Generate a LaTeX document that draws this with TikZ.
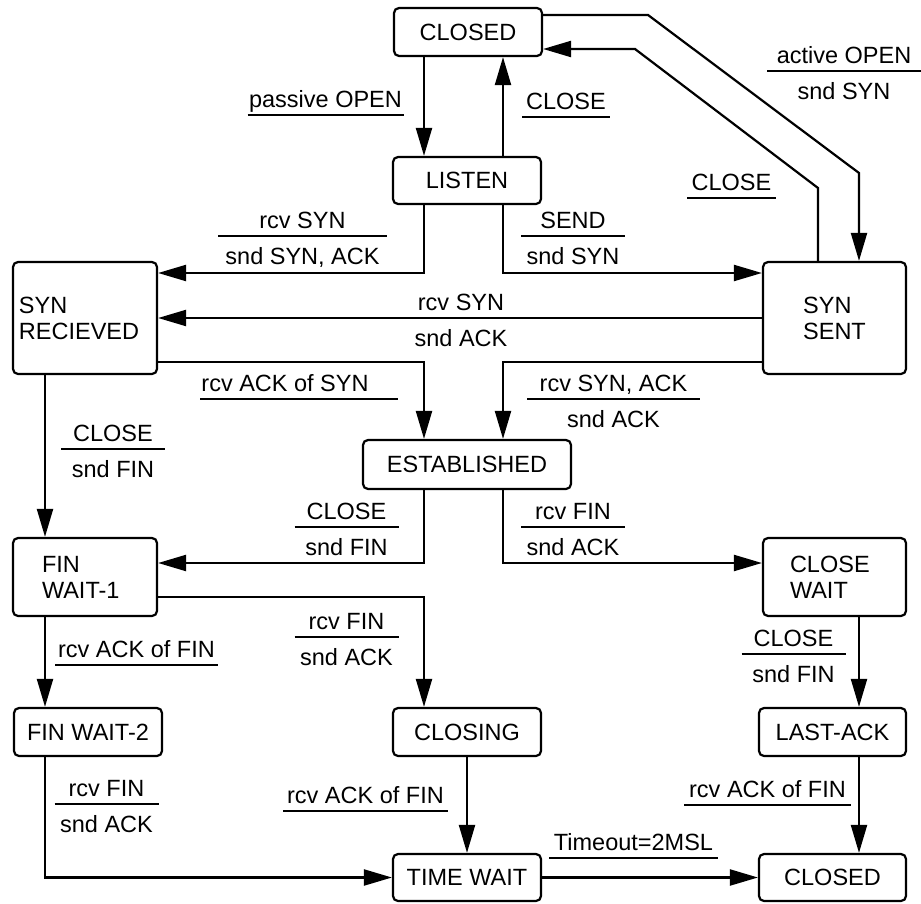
\documentclass[tikz,border=0pt]{standalone}
\usepackage{fontspec}
\setmainfont{Liberation Sans}
\usetikzlibrary{arrows.meta}
\newcommand\frlbl[3]{\vbox{\offinterlineskip
  \hbox to #1{\hss\vrule height 18pt depth 6.5pt width 0pt #2\hss}%
  \hrule height 2.2pt
  \hbox to #1{\hss\vrule height 27pt depth 6pt width 0pt #3\hss}}}
\newcommand\frnobar[3]{\vbox{\offinterlineskip
  \hbox to #1{\hss\vrule height 18pt depth 6.5pt width 0pt #2\hss}%
  \kern 2.2pt
  \hbox to #1{\hss\vrule height 27pt depth 6pt width 0pt #3\hss}}}
\newcommand\ulbl[2]{\vbox{\offinterlineskip
  \hbox to #1{\hss\vrule height 18pt depth 6.5pt width 0pt #2\hss}%
  \hrule height 2.2pt}}
\begin{document}
\begin{tikzpicture}[x=1pt,y=-1pt,line width=2.2pt,
  every node/.style={font=\fontsize{23.5}{26}\selectfont},
  >={Triangle[length=28pt,width=16pt]},
  state/.style={draw, rounded corners=5pt, inner sep=0pt, align=center},
  lbl/.style={inner sep=0pt, anchor=base, yshift=-28.1pt},
  lblu/.style={inner sep=0pt, anchor=base, yshift=-1.1pt}]
\useasboundingbox (0,0) rectangle (921,904);
% states
\node[state, minimum width=148pt, minimum height=48pt] (closedT) at (468,32) {CLOSED};
\node[state, minimum width=148pt, minimum height=47pt] (listen) at (467,180.5) {LISTEN};
\node[state, minimum width=144pt, minimum height=112pt, text width=132pt, inner xsep=6pt, align=left] (synrcvd) at (85,318) {SYN\\RECIEVED};
\node[state, minimum width=143pt, minimum height=112pt, align=left] (synsent) at (834.5,318) {SYN\\SENT};
\node[state, minimum width=208pt, minimum height=49pt] (estab) at (467,464.5) {ESTABLISHED};
\node[state, minimum width=144pt, minimum height=78pt, text width=86pt, inner xsep=29pt, align=left] (finw1) at (85,577) {FIN\\WAIT-1};
\node[state, minimum width=143pt, minimum height=78pt, text width=89pt, inner xsep=27pt, align=left] (closewait) at (834.5,577) {CLOSE\\WAIT};
\node[state, minimum width=148pt, minimum height=48pt] (finw2) at (88,732) {FIN WAIT-2};
\node[state, minimum width=148pt, minimum height=48pt] (closing) at (467,732) {CLOSING};
\node[state, minimum width=147pt, minimum height=48pt] (lastack) at (832.5,732) {LAST-ACK};
\node[state, minimum width=148pt, minimum height=47pt] (timewait) at (467,877.5) {TIME WAIT};
\node[state, minimum width=147pt, minimum height=47pt] (closedB) at (832.5,877.5) {CLOSED};
% guide coordinates
\coordinate (xL) at (424,0);
\coordinate (xR) at (503,0);
\coordinate (xA) at (45,0);
\coordinate (xC) at (859,0);
\coordinate (xD) at (818,0);
\coordinate (b1) at (648,15);
\coordinate (b2) at (859,173);
\coordinate (b3) at (818,188);
\coordinate (b4) at (635,49);
% connectors
\draw[->] (closedT.south -| xL) -- (listen.north -| xL);
\draw[->] (listen.north -| xR) -- (closedT.south -| xR);
\draw[->] ([yshift=17pt]closedT.east) -- (b1) -- (b2) -- (synsent.north -| xC);
\draw[->] (synsent.north -| xD) -- (b3) -- (b4) -- ([yshift=-17pt]closedT.east);
\draw[->] (listen.south -| xL) |- ([yshift=45pt]synrcvd.east);
\draw[->] (listen.south -| xR) |- ([yshift=45pt]synsent.west);
\draw[->] (synsent.west) -- (synrcvd.east);
\draw[->] ([yshift=-44pt]synrcvd.east) -| (estab.north -| xL);
\draw[->] ([yshift=-44pt]synsent.west) -| (estab.north -| xR);
\draw[->] (synrcvd.south -| xA) -- (finw1.north -| xA);
\draw[->] (estab.south -| xL) |- ([yshift=14pt]finw1.east);
\draw[->] (estab.south -| xR) |- ([yshift=14pt]closewait.west);
\draw[->] ([yshift=-20pt]finw1.east) -| (closing.north -| xL);
\draw[->] (finw1.south -| xA) -- (finw2.north -| xA);
\draw[->] (closewait.south -| xC) -- (lastack.north -| xC);
\draw[->] (finw2.south -| xA) |- (timewait.west);
\draw[->] (closing.south) -- (timewait.north);
\draw[->] (timewait.east) -- (closedB.west);
\draw[->] (lastack.south -| xC) -- (closedB.north -| xC);
% labels
\node[lblu] (l1) at (325.5,115) {\ulbl{156pt}{passive OPEN}};
\node[lblu] (l2) at (566,117) {\ulbl{88pt}{CLOSE}};
\node[lbl] (l3) at (844,71) {\frlbl{154pt}{active OPEN}{snd SYN}};
\node[lblu] (l4) at (731.5,198) {\ulbl{89pt}{CLOSE}};
\node[lbl] (l5) at (302.5,236) {\frlbl{169pt}{rcv SYN}{snd SYN, ACK}};
\node[lbl] (l6) at (573,236) {\frlbl{104pt}{SEND}{snd SYN}};
\node[lbl] (l7) at (461,318) {\frnobar{100pt}{rcv SYN}{snd ACK}};
\node[lblu] (l8) at (299,399) {\ulbl{198pt}{rcv ACK of SYN\hskip 28pt}};
\node[lbl] (l9) at (613.5,399) {\frlbl{173pt}{rcv SYN, ACK}{snd ACK}};
\node[lbl] (l10) at (113,449) {\frlbl{104pt}{CLOSE}{snd FIN}};
\node[lbl] (l11) at (346.5,527) {\frlbl{104pt}{CLOSE}{snd FIN}};
\node[lbl] (l12) at (573,527) {\frlbl{104pt}{rcv FIN}{snd ACK}};
\node[lblu] (l13) at (136.5,665) {\ulbl{163pt}{rcv ACK of FIN}};
\node[lbl] (l14) at (346.5,637) {\frlbl{104pt}{rcv FIN}{snd ACK}};
\node[lbl] (l15) at (793.5,654) {\frlbl{104pt}{CLOSE}{snd FIN}};
\node[lbl] (l16) at (106.5,804) {\frlbl{104pt}{rcv FIN}{snd ACK}};
\node[lblu] (l17) at (365.5,811) {\ulbl{165pt}{rcv ACK of FIN}};
\node[lblu] (l18) at (767.5,805) {\ulbl{167pt}{rcv ACK of FIN}};
\node[lblu] (l19) at (633.5,858) {\ulbl{169pt}{Timeout=2MSL}};
\end{tikzpicture}
\end{document}
